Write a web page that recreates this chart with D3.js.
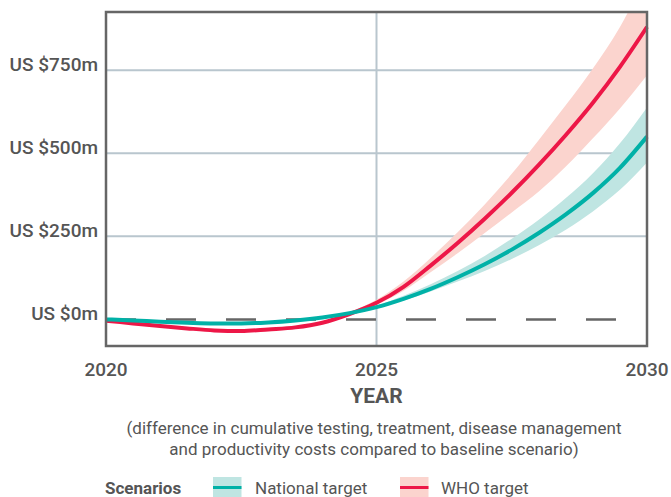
<!DOCTYPE html>
<html><head><meta charset="utf-8">
<script src="https://cdn.jsdelivr.net/npm/d3@7"></script>
<style>
html,body{margin:0;padding:0;background:#fff;}
svg{display:block;font-family:Roboto,"Noto Sans",sans-serif;}
</style></head>
<body>
<svg id="chart" width="671" height="497"></svg>
<script>
const years = [2020,2020.5,2021,2021.5,2022,2022.5,2023,2023.5,2024,2024.5,2025,2025.5,2026,2026.5,2027,2027.5,2028,2028.5,2029,2029.5,2030];
const national     = [0,-3,-7,-10,-12,-12,-9,-3,6,19,37,62,92,127,166,210,260,316,380,456,550];
const nationalLow  = [0,-3,-7,-10,-12,-12,-9,-3,5,17,34,57,84,114,146,182,223,270,325,390,472];
const nationalHigh = [0,-3,-7,-10,-12,-12,-9,-3,7,22,42,71,106,146,191,243,300,365,440,530,638];
const who     = [-4,-12,-20,-27,-33,-35,-30,-24,-10,16,50,98,162,230,303,381,465,555,652,760,880];
const whoLow  = [-4,-12,-20,-27,-33,-35,-30,-24,-10,13,44,86,142,199,260,322,385,460,545,635,735];
const whoHigh = [-4,-12,-20,-27,-33,-35,-30,-24,-9,21,59,114,185,262,346,438,540,645,755,880,1040];
const yTicks = [0,250,500,750];
const yTickLabels = ["US $0m","US $250m","US $500m","US $750m"];
const xTicks = [2020,2025,2030];
const seriesNames = ["National target","WHO target"];

const C = {teal:"#00b1a7", tealBand:"#bfe5e2", red:"#ed1747", redBand:"#fbd4ce",
           grid:"#b9c6ce", frame:"#666666", text:"#555555"};

const svg = d3.select("#chart");
const x = d3.scaleLinear().domain([2020,2030]).range([106,647]);
const y = d3.scaleLinear().domain([-80,925]).range([346,12]);

svg.append("defs").append("clipPath").attr("id","plotclip")
  .append("rect").attr("x",106).attr("y",12).attr("width",541).attr("height",334);

// gridlines
svg.append("g").selectAll("line").data(yTicks.filter(d=>d!==0)).join("line")
  .attr("x1",x(2020)).attr("x2",x(2030)).attr("y1",d=>y(d)).attr("y2",d=>y(d))
  .attr("stroke",C.grid).attr("stroke-width",2);
svg.append("line").attr("x1",x(2025)).attr("x2",x(2025)).attr("y1",y.range()[1]).attr("y2",y.range()[0])
  .attr("stroke",C.grid).attr("stroke-width",2);

// zero dashed line
svg.append("line").attr("x1",x(2020)).attr("x2",x(2030)).attr("y1",y(0)).attr("y2",y(0))
  .attr("stroke","#666").attr("stroke-width",2.5).attr("stroke-dasharray","30,30");

const idx = d3.range(years.length);
const area = (lo,hi)=>d3.area().x(i=>x(years[i])).y0(i=>y(lo[i])).y1(i=>y(hi[i])).curve(d3.curveMonotoneX);
const line = (v)=>d3.line().x(i=>x(years[i])).y(i=>y(v[i])).curve(d3.curveMonotoneX);

const plot = svg.append("g").attr("clip-path","url(#plotclip)");
plot.append("path").attr("d",area(nationalLow,nationalHigh)(idx)).attr("fill",C.tealBand);
plot.append("path").attr("d",area(whoLow,whoHigh)(idx)).attr("fill",C.redBand);
svg.append("path").attr("d",line(who)(idx)).attr("fill","none").attr("stroke",C.red).attr("stroke-width",4);
svg.append("path").attr("d",line(national)(idx)).attr("fill","none").attr("stroke",C.teal).attr("stroke-width",4);

// frame
svg.append("rect").attr("x",106).attr("y",12).attr("width",541).attr("height",334)
  .attr("fill","none").attr("stroke",C.frame).attr("stroke-width",2.5);

// y labels
svg.append("g").selectAll("text").data(yTicks).join("text")
  .attr("x",98).attr("y",d=>y(d)+1).attr("text-anchor","end")
  .attr("font-size",19).attr("font-weight",500).attr("fill",C.text).text((d,i)=>yTickLabels[i]);

// x labels
svg.append("g").selectAll("text").data(xTicks).join("text")
  .attr("x",d=>x(d)).attr("y",375.5).attr("text-anchor","middle")
  .attr("font-size",19).attr("font-weight",500).attr("fill",C.text).text(d=>d);

svg.append("text").attr("x",x(2025)).attr("y",402.5).attr("text-anchor","middle")
  .attr("font-size",21).attr("font-weight","bold").attr("fill",C.text).text("YEAR");

svg.append("text").attr("x",374).attr("y",434).attr("text-anchor","middle")
  .attr("font-size",17).attr("fill",C.text)
  .text("(difference in cumulative testing, treatment, disease management");
svg.append("text").attr("x",374).attr("y",455).attr("text-anchor","middle")
  .attr("font-size",17).attr("fill",C.text)
  .text("and productivity costs compared to baseline scenario)");

// legend
svg.append("text").attr("x",105).attr("y",494).attr("font-size",17).attr("font-weight","bold")
  .attr("fill",C.text).text("Scenarios");
const leg = [{x:213, band:C.tealBand, col:C.teal, tx:255},{x:400, band:C.redBand, col:C.red, tx:441}];
const lg = svg.append("g").selectAll("g").data(leg).join("g");
lg.append("rect").attr("x",d=>d.x).attr("y",477).attr("width",28.5).attr("height",22).attr("fill",d=>d.band);
lg.append("line").attr("x1",d=>d.x).attr("x2",d=>d.x+28.5).attr("y1",487.5).attr("y2",487.5)
  .attr("stroke",d=>d.col).attr("stroke-width",3);
lg.append("text").attr("x",d=>d.tx).attr("y",494).attr("font-size",17).attr("fill",C.text)
  .text((d,i)=>seriesNames[i]);
</script>
</body></html>
